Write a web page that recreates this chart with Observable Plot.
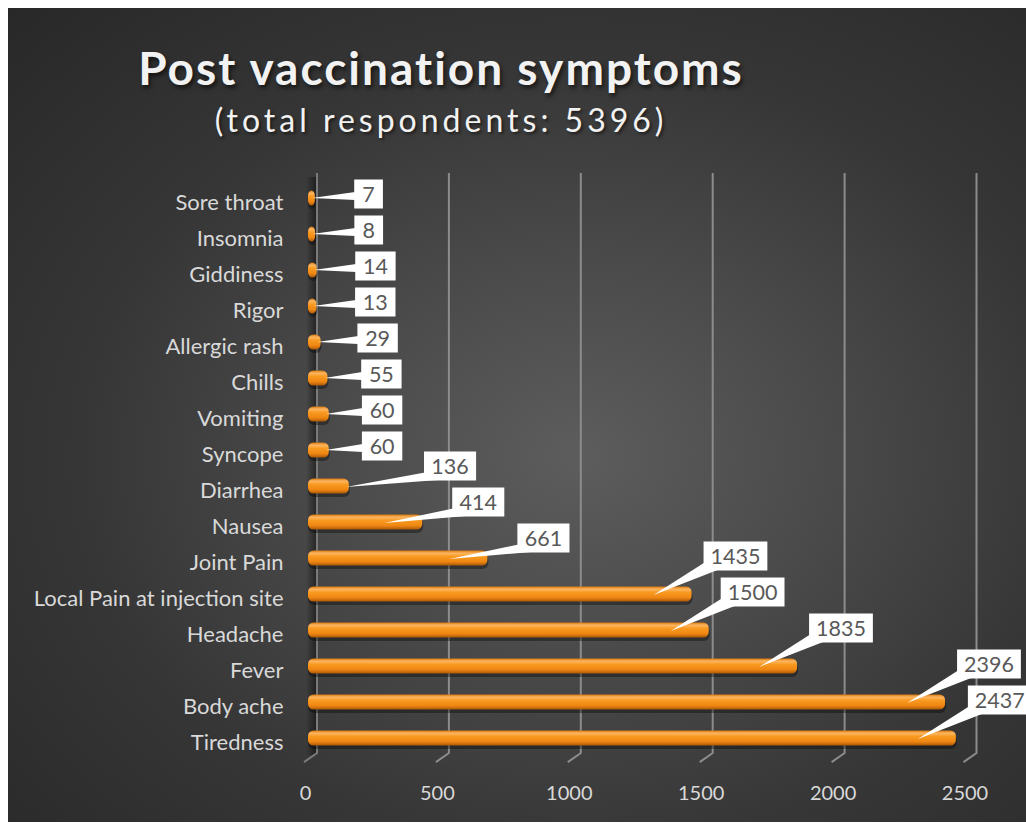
<!DOCTYPE html>
<html>
<head>
<meta charset="utf-8">
<script src="https://cdn.jsdelivr.net/npm/d3@7"></script>
<script src="https://cdn.jsdelivr.net/npm/@observablehq/plot@0.6"></script>
<style>
  html, body { margin: 0; padding: 0; background: #ffffff; }
  body { width: 1026px; height: 823px; overflow: hidden; position: relative; font-family: Lato, "Open Sans", sans-serif; }
  #panel {
    position: absolute; left: 8px; top: 8px; width: 1018px; height: 814px; overflow: hidden;
    background: radial-gradient(ellipse at 56% 55%, #5d5d5d 0%, #4b4b4b 30%, #363636 62%, #282828 100%);
  }
  #title {
    position: absolute; left: 0; top: 37px; width: 866px; text-align: center;
    font-weight: bold; font-size: 46px; line-height: 46px; letter-spacing: 2px; color: #f2f2f2;
    text-shadow: 2px 3px 4px rgba(0,0,0,0.6);
  }
  #subtitle {
    position: absolute; left: 0; top: 96px; width: 866px; text-align: center;
    font-size: 32px; line-height: 32px; letter-spacing: 4px; color: #f2f2f2;
    text-shadow: 2px 2px 3px rgba(0,0,0,0.5);
  }
  #chart { position: absolute; left: 0; top: 142px; }
</style>
</head>
<body>
<div id="panel">
  <div id="title">Post vaccination symptoms</div>
  <div id="subtitle">(total respondents: 5396)</div>
  <div id="chart"></div>
</div>
<script>
// ---- data ----
const categories = [
  "Sore throat", "Insomnia", "Giddiness", "Rigor", "Allergic rash", "Chills",
  "Vomiting", "Syncope", "Diarrhea", "Nausea", "Joint Pain",
  "Local Pain at injection site", "Headache", "Fever", "Body ache", "Tiredness"
];
const values = [7, 8, 14, 13, 29, 55, 60, 60, 136, 414, 661, 1435, 1500, 1835, 2396, 2437];
const xTicks = [0, 500, 1000, 1500, 2000, 2500];

const data = categories.map((c, i) => ({category: c, value: values[i]}));

// ---- custom marks drawn with the plot's own scales ----
function bandInfo(scales) {
  const y = scales.y;
  return typeof y.bandwidth === "function" ? y.bandwidth() : (y.bandwidth ?? 36);
}

function gridMark(index, scales, values, dims) {
  const g = d3.create("svg:g");
  const top = dims.marginTop - 5.5;
  const bottom = dims.height - dims.marginBottom - 4;
  const x0 = scales.x(0);
  // shaded wall edge left of the zero line
  g.append("rect")
    .attr("x", x0 - 3).attr("y", top + 4)
    .attr("width", 10).attr("height", bottom - top - 2)
    .attr("fill", "url(#wallShade)");
  const lines = g.append("g").attr("stroke-width", 2).attr("fill", "none");
  for (const t of xTicks) {
    const xx = scales.x(t) + 8;
    lines.append("path").attr("d", `M${xx},${top}V${bottom}L${xx - 13},${bottom + 9}`)
      .attr("stroke", t === 0 ? "#7a7a7a" : "#8c8c8c");
  }
  return g.node();
}

function calloutMark(index, scales, values, dims) {
  const g = d3.create("svg:g");
  const x = scales.x, y = scales.y;
  const bw = bandInfo(scales);
  const x0 = x(0);
  const h = 29;
  for (const d of data) {
    const cy = y(d.category) + bw / 2;
    const xe = x(d.value) + 4;
    const label = String(d.value);
    const w = 11.7 * label.length + 17;
    let bx, by, pts;
    if (d.value < 100) {
      bx = x0 + 42 + (xe - x0) * 0.55;
      by = cy - 4;
      pts = [[xe - 3, cy], [bx + 1, by - 2], [bx + 1, by + 6]];
    } else {
      const big = d.value >= 1000;
      bx = big ? xe + 12 : Math.max(xe + 30, x0 + 115);
      by = big ? cy - 38 : cy - 20;
      const tipX = (xe - x0 > 80) ? xe - 38 : xe - 3;
      pts = [[tipX, cy + 1], [bx + 1, by + h / 2 - 8], [bx + 14, by + h / 2 - 0.5]];
    }
    g.append("polygon").attr("points", pts.map(p => p.join(",")).join(" ")).attr("fill", "#ffffff");
    g.append("rect").attr("x", bx).attr("y", by - h / 2).attr("width", w).attr("height", h).attr("fill", "#ffffff");
    g.append("text").attr("x", bx + w / 2).attr("y", by).attr("dy", "0.36em")
      .attr("text-anchor", "middle").attr("fill", "#595959")
      .attr("font-size", "21.5px").attr("font-family", "Lato, sans-serif")
      .text(label);
  }
  return g.node();
}

const chart = Plot.plot({
  width: 1018,
  height: 668,
  marginLeft: 301,
  marginRight: 57.5,
  marginTop: 28.4,
  marginBottom: 60.9,
  style: {background: "transparent", color: "#d9d9d9", fontFamily: "Lato, sans-serif", fontSize: "20px"},
  x: {domain: [0, 2500]},
  y: {domain: categories, padding: 0},
  marks: [
    gridMark,
    Plot.barX(data, {x: "value", y: "category", fill: "rgba(0,0,0,0.35)", insetTop: 12, insetBottom: 9, insetRight: -5, insetLeft: -1, rx: 6, dy: 2}),
    Plot.barX(data, {x: "value", y: "category", fill: "url(#barGrad)", insetTop: 10.5, insetBottom: 10.5, insetRight: -4, insetLeft: -1, rx: 5.5}),
    calloutMark,
    Plot.axisX({ticks: xTicks, tickFormat: d => String(d), tickSize: 0, tickPadding: 28, dx: -4, fontSize: 20, label: null, fill: "#d9d9d9"}),
    Plot.axisY({tickSize: 0, tickPadding: 26, dy: 4.5, fontSize: 22, label: null, fill: "#d9d9d9"})
  ]
});

const svg = d3.select(chart);
const defs = svg.insert("defs", ":first-child");
const bg = defs.append("linearGradient").attr("id", "barGrad")
  .attr("x1", 0).attr("y1", 0).attr("x2", 0).attr("y2", 1);
[["0%", "#d8780f"], ["18%", "#fcb660"], ["40%", "#f9991f"], ["75%", "#ee8612"], ["100%", "#a9580a"]]
  .forEach(([o, c]) => bg.append("stop").attr("offset", o).attr("stop-color", c));
const ws = defs.append("linearGradient").attr("id", "wallShade")
  .attr("x1", 0).attr("y1", 0).attr("x2", 1).attr("y2", 0);
[["0%", "rgba(0,0,0,0)"], ["100%", "rgba(0,0,0,0.45)"]]
  .forEach(([o, c]) => ws.append("stop").attr("offset", o).attr("stop-color", c));

document.getElementById("chart").appendChild(chart);
</script>
</body>
</html>
